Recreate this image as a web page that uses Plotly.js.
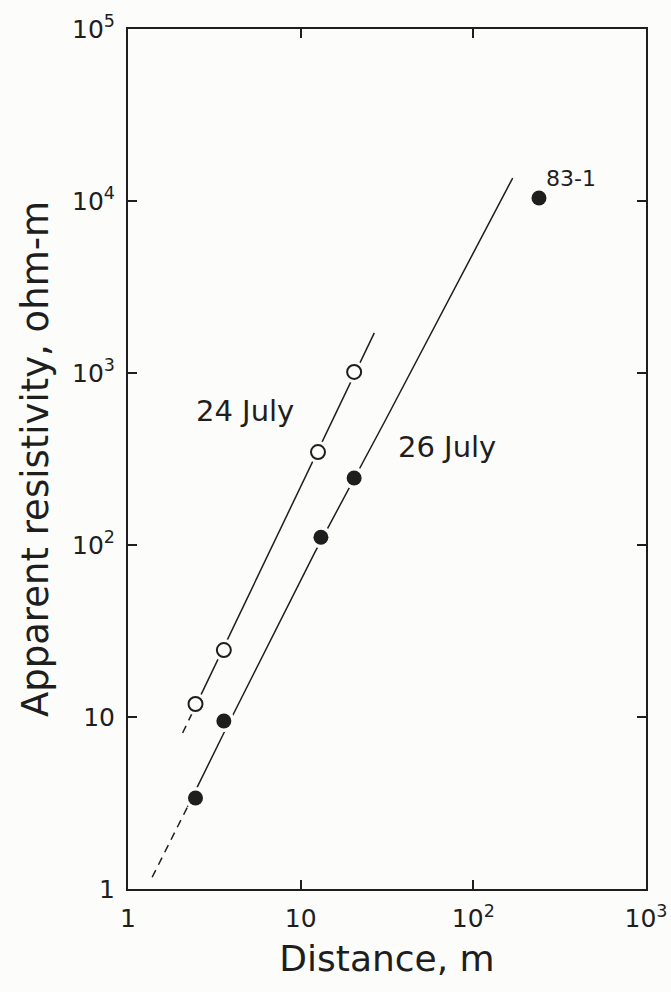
<!DOCTYPE html>
<html>
<head>
<meta charset="utf-8">
<script src="https://cdn.plot.ly/plotly-3.0.1.min.js"></script>
<style>html,body{margin:0;padding:0;background:#fcfcfa;}</style>
</head>
<body>
<div id="chart" style="width:671px;height:992px;"></div>
<script>
// Measured points
const dist24 = [2.46, 3.59, 12.6, 20.4];
const res24 = [11.9, 24.5, 347, 1014];
const dist26 = [2.46, 3.59, 13.1, 20.4, 240];
const res26 = [3.38, 9.48, 111, 245, 10400];

// Hand-drawn fit lines
const fit24DashX = [2.07, 2.35];
const fit24DashY = [8.07, 10.5];
const fit24SolidX = [2.35, 26.7];
const fit24SolidY = [10.5, 1710];
const fit26DashX = [1.38, 2.21];
const fit26DashY = [1.17, 3.0];
const fit26SolidX = [2.21, 3.59, 12.1, 31.0, 169];
const fit26SolidY = [3.0, 8.07, 91, 533, 13600];

// Tick labels
const xTickVals = [1, 10, 100, 1000];
const xTickText = ['1', '10', '10<sup>2</sup>', '10<sup>3</sup>'];
const yTickVals = [1, 10, 100, 1000, 10000, 100000];
const yTickText = ['1', '10', '10<sup>2</sup>', '10<sup>3</sup>', '10<sup>4</sup>', '10<sup>5</sup>'];

// Labels
const labelText = ['24 July', '26 July', '83-1'];
const labelX = [2.42, 35.7, 255];
const labelY = [600, 373, 13500];

const ink = '#1e1e1e';
const bg = '#fcfcfa';
const font = 'DejaVu Sans, sans-serif';

const traces = [
  {x: fit24DashX, y: fit24DashY, mode: 'lines', line: {color: ink, width: 1.5, dash: '8px,6px'}},
  {x: fit24SolidX, y: fit24SolidY, mode: 'lines', line: {color: ink, width: 1.5}},
  {x: fit26DashX, y: fit26DashY, mode: 'lines', line: {color: ink, width: 1.5, dash: '8px,6px'}},
  {x: fit26SolidX, y: fit26SolidY, mode: 'lines', line: {color: ink, width: 1.5}},
  // white halos that break the lines around the symbols
  {x: dist24, y: res24, mode: 'markers', marker: {symbol: 'circle', size: 22, color: bg}},
  {x: dist26, y: res26, mode: 'markers', marker: {symbol: 'circle', size: 22, color: bg}},
  {x: dist24, y: res24, mode: 'markers', name: '24 July',
   marker: {symbol: 'circle-open', size: 14, color: ink, line: {width: 2, color: ink}}},
  {x: dist26, y: res26, mode: 'markers', name: '26 July',
   marker: {symbol: 'circle', size: 15, color: ink}}
];

const axisCommon = {
  type: 'log',
  showgrid: false,
  zeroline: false,
  showline: true,
  linecolor: ink,
  linewidth: 2,
  mirror: 'ticks',
  ticks: 'inside',
  ticklen: 9,
  tickwidth: 2,
  tickcolor: ink,
  tickfont: {family: font, size: 25, color: ink},
  tickmode: 'array'
};

const layout = {
  width: 671,
  height: 992,
  paper_bgcolor: bg,
  plot_bgcolor: bg,
  showlegend: false,
  margin: {l: 128, r: 25, t: 29, b: 103, pad: 0},
  xaxis: Object.assign({}, axisCommon, {
    range: [0, 3],
    tickvals: xTickVals,
    ticktext: xTickText,
    ticklabelstandoff: 6,
    title: {text: 'Distance, m', font: {family: font, size: 36, color: ink}, standoff: 14}
  }),
  yaxis: Object.assign({}, axisCommon, {
    range: [0, 5],
    tickvals: yTickVals,
    ticktext: yTickText,
    ticklabelstandoff: 6,
    title: {text: 'Apparent resistivity, ohm-m', font: {family: font, size: 37, color: ink}, standoff: 12}
  }),
  annotations: labelText.map((t, i) => ({
    x: Math.log10(labelX[i]), y: Math.log10(labelY[i]), xref: 'x', yref: 'y', text: t,
    showarrow: false, font: {family: font, size: i === 2 ? 22 : 29, color: ink},
    xanchor: 'left', yanchor: 'middle'
  }))
};

Plotly.newPlot('chart', traces, layout, {displayModeBar: false, staticPlot: true});
</script>
</body>
</html>
